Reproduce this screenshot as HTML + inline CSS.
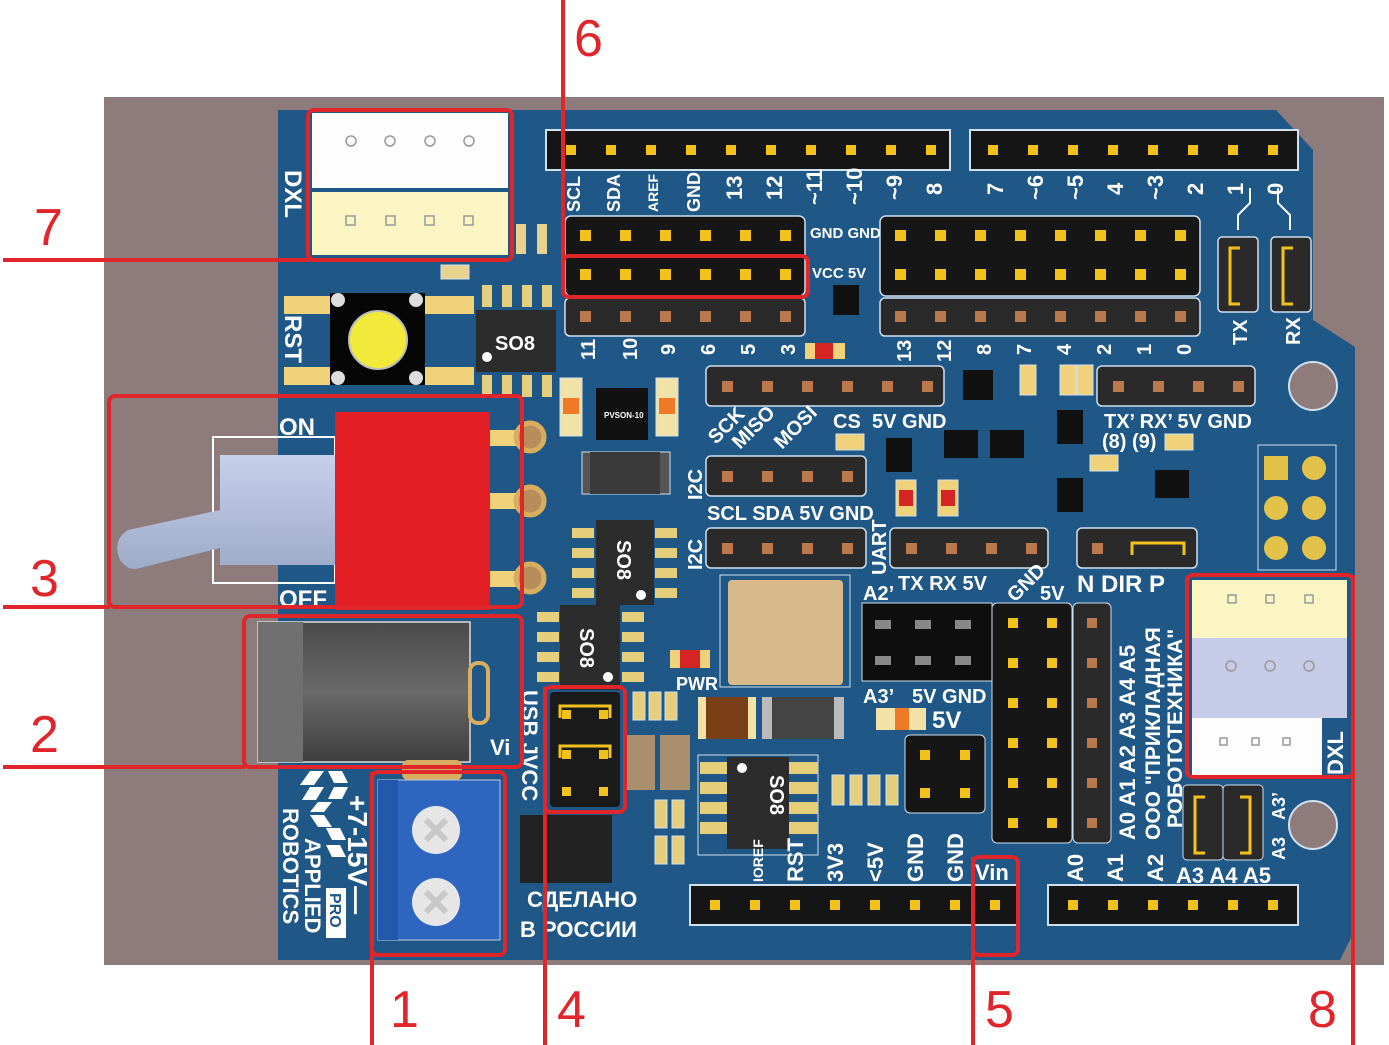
<!DOCTYPE html>
<html><head><meta charset="utf-8"><style>
html,body{margin:0;padding:0;background:#fff;width:1389px;height:1045px;overflow:hidden}
svg{display:block}
text{font-family:"Liberation Sans","DejaVu Sans",sans-serif;font-weight:bold;fill:#fff}
.n{fill:#e0262a;font-size:52px;font-weight:normal}
.l{font-size:20px}
.s{font-size:15px}
</style></head><body>
<svg width="1389" height="1045" viewBox="0 0 1389 1045" xmlns="http://www.w3.org/2000/svg">
<defs>
<linearGradient id="jack" x1="0" y1="0" x2="0" y2="1"><stop offset="0" stop-color="#4a4a4a"/><stop offset=".5" stop-color="#6a6a6a"/><stop offset="1" stop-color="#3e3e3e"/></linearGradient>
<linearGradient id="lev" x1="0" y1="0" x2="0" y2="1"><stop offset="0" stop-color="#c5d0ea"/><stop offset="1" stop-color="#9eabc9"/></linearGradient>
</defs>
<rect x="104" y="97" width="1280" height="868" fill="#8e7b7c"/>
<path d="M278 110 L1276 110 L1313 150 L1313 320 L1355 347 L1355 930 L1340 960 L278 960 Z" fill="#1f5787"/>
<rect x="546" y="130" width="404" height="40" fill="#151515" stroke="#cfe0ee" stroke-width="2"/>
<g fill="#f2c21b">
<rect x="566" y="145" width="10" height="10"/><rect x="606" y="145" width="10" height="10"/><rect x="646" y="145" width="10" height="10"/><rect x="686" y="145" width="10" height="10"/><rect x="726" y="145" width="10" height="10"/><rect x="766" y="145" width="10" height="10"/><rect x="806" y="145" width="10" height="10"/><rect x="846" y="145" width="10" height="10"/><rect x="886" y="145" width="10" height="10"/><rect x="926" y="145" width="10" height="10"/>
</g>
<rect x="970" y="130" width="328" height="40" fill="#151515" stroke="#cfe0ee" stroke-width="2"/>
<g fill="#f2c21b">
<rect x="988" y="145" width="10" height="10"/><rect x="1028" y="145" width="10" height="10"/><rect x="1068" y="145" width="10" height="10"/><rect x="1108" y="145" width="10" height="10"/><rect x="1148" y="145" width="10" height="10"/><rect x="1188" y="145" width="10" height="10"/><rect x="1228" y="145" width="10" height="10"/><rect x="1268" y="145" width="10" height="10"/>
</g>
<g class="l">
<text transform="translate(580,212) rotate(-90)" font-size="18">SCL</text>
<text transform="translate(620,212) rotate(-90)" font-size="18">SDA</text>
<text transform="translate(658,212) rotate(-90)" font-size="14">AREF</text>
<text transform="translate(700,212) rotate(-90)" font-size="18">GND</text>
<text transform="translate(742,200) rotate(-90)" font-size="22">13</text>
<text transform="translate(782,200) rotate(-90)" font-size="22">12</text>
<text transform="translate(822,205) rotate(-90)" font-size="22">~11</text>
<text transform="translate(862,205) rotate(-90)" font-size="22">~10</text>
<text transform="translate(902,200) rotate(-90)" font-size="22">~9</text>
<text transform="translate(942,195) rotate(-90)" font-size="22">8</text>
<text transform="translate(1003,195) rotate(-90)" font-size="22">7</text>
<text transform="translate(1043,200) rotate(-90)" font-size="22">~6</text>
<text transform="translate(1083,200) rotate(-90)" font-size="22">~5</text>
<text transform="translate(1123,195) rotate(-90)" font-size="22">4</text>
<text transform="translate(1163,200) rotate(-90)" font-size="22">~3</text>
<text transform="translate(1203,195) rotate(-90)" font-size="22">2</text>
<text transform="translate(1243,195) rotate(-90)" font-size="22">1</text>
<text transform="translate(1283,195) rotate(-90)" font-size="22">0</text>
</g>
<rect x="565" y="216" width="240" height="80" rx="6" fill="#161616" stroke="#cfe0ee" stroke-width="1.5"/>
<rect x="880" y="216" width="320" height="80" rx="6" fill="#161616" stroke="#cfe0ee" stroke-width="1.5"/>
<g fill="#f2c21b">
<rect x="580" y="230" width="11" height="11"/><rect x="620" y="230" width="11" height="11"/><rect x="660" y="230" width="11" height="11"/><rect x="700" y="230" width="11" height="11"/><rect x="740" y="230" width="11" height="11"/><rect x="780" y="230" width="11" height="11"/>
<rect x="580" y="269" width="11" height="11"/><rect x="620" y="269" width="11" height="11"/><rect x="660" y="269" width="11" height="11"/><rect x="700" y="269" width="11" height="11"/><rect x="740" y="269" width="11" height="11"/><rect x="780" y="269" width="11" height="11"/>
<rect x="895" y="230" width="11" height="11"/><rect x="935" y="230" width="11" height="11"/><rect x="975" y="230" width="11" height="11"/><rect x="1015" y="230" width="11" height="11"/><rect x="1055" y="230" width="11" height="11"/><rect x="1095" y="230" width="11" height="11"/><rect x="1135" y="230" width="11" height="11"/><rect x="1175" y="230" width="11" height="11"/>
<rect x="895" y="269" width="11" height="11"/><rect x="935" y="269" width="11" height="11"/><rect x="975" y="269" width="11" height="11"/><rect x="1015" y="269" width="11" height="11"/><rect x="1055" y="269" width="11" height="11"/><rect x="1095" y="269" width="11" height="11"/><rect x="1135" y="269" width="11" height="11"/><rect x="1175" y="269" width="11" height="11"/>
</g>
<rect x="565" y="298" width="240" height="38" rx="5" fill="#2a2a2a" stroke="#cfe0ee" stroke-width="1.5"/>
<rect x="880" y="298" width="320" height="38" rx="5" fill="#2a2a2a" stroke="#cfe0ee" stroke-width="1.5"/>
<g fill="#b9794c">
<rect x="580" y="311" width="11" height="11"/><rect x="620" y="311" width="11" height="11"/><rect x="660" y="311" width="11" height="11"/><rect x="700" y="311" width="11" height="11"/><rect x="740" y="311" width="11" height="11"/><rect x="780" y="311" width="11" height="11"/>
<rect x="895" y="311" width="11" height="11"/><rect x="935" y="311" width="11" height="11"/><rect x="975" y="311" width="11" height="11"/><rect x="1015" y="311" width="11" height="11"/><rect x="1055" y="311" width="11" height="11"/><rect x="1095" y="311" width="11" height="11"/><rect x="1135" y="311" width="11" height="11"/><rect x="1175" y="311" width="11" height="11"/>
</g>
<text x="810" y="238" class="s" font-size="13">GND GND</text>
<text x="812" y="278" class="s" font-size="13">VCC   5V</text>
<rect x="833" y="285" width="26" height="30" fill="#111"/>
<g class="l" font-size="22">
<text transform="translate(595,360) rotate(-90)">11</text><text transform="translate(637,360) rotate(-90)">10</text><text transform="translate(675,355) rotate(-90)">9</text><text transform="translate(715,355) rotate(-90)">6</text><text transform="translate(755,355) rotate(-90)">5</text><text transform="translate(795,355) rotate(-90)">3</text>
<text transform="translate(911,362) rotate(-90)">13</text><text transform="translate(951,362) rotate(-90)">12</text><text transform="translate(991,355) rotate(-90)">8</text><text transform="translate(1031,355) rotate(-90)">7</text><text transform="translate(1071,355) rotate(-90)">4</text><text transform="translate(1111,355) rotate(-90)">2</text><text transform="translate(1151,355) rotate(-90)">1</text><text transform="translate(1191,355) rotate(-90)">0</text>
</g>
<rect x="1218" y="237" width="40" height="75" rx="4" fill="#2a2a2a" stroke="#cfe0ee" stroke-width="1.5"/>
<rect x="1271" y="237" width="40" height="75" rx="4" fill="#2a2a2a" stroke="#cfe0ee" stroke-width="1.5"/>
<path d="M1240 248 h-10 v56 h10 M1293 248 h-10 v56 h10" stroke="#f2c21b" stroke-width="3" fill="none"/>
<text transform="translate(1247,345) rotate(-90)" font-size="20">TX</text>
<text transform="translate(1300,345) rotate(-90)" font-size="20">RX</text>
<path d="M1238 230 v-15 l12 -12 v-15 M1290 230 v-15 l-12 -12 v-15" stroke="#fff" stroke-width="2" fill="none"/>
<rect x="312" y="113" width="196" height="75" fill="#fdfdfd"/>
<rect x="312" y="192" width="196" height="63" fill="#fbf5c4"/>
<g fill="none" stroke="#999" stroke-width="1.5"><circle cx="351" cy="141" r="5"/><circle cx="390" cy="141" r="5"/><circle cx="430" cy="141" r="5"/><circle cx="469" cy="141" r="5"/>
<rect x="346" y="216" width="9" height="9"/><rect x="386" y="216" width="9" height="9"/><rect x="425" y="216" width="9" height="9"/><rect x="464" y="216" width="9" height="9"/></g>
<text transform="translate(285,170) rotate(90)" font-size="24">DXL</text>
<rect x="516" y="224" width="10" height="30" fill="#e8d290"/><rect x="537" y="224" width="10" height="30" fill="#e8d290"/>
<rect x="441" y="265" width="28" height="14" fill="#e8d290" stroke="#cfe0ee"/>
<rect x="284" y="296" width="190" height="18" fill="#f0d27a"/><rect x="284" y="367" width="190" height="18" fill="#f0d27a"/>
<rect x="330" y="293" width="95" height="92" fill="#050505"/>
<circle cx="378" cy="340" r="29" fill="#f2ea3a" stroke="#bbb" stroke-width="2"/>
<g fill="#ddd"><circle cx="338" cy="300" r="7"/><circle cx="416" cy="300" r="7"/><circle cx="338" cy="378" r="7"/><circle cx="416" cy="378" r="7"/></g>
<text transform="translate(285,315) rotate(90)" font-size="24">RST</text>
<g fill="#e6cf7c"><rect x="482" y="285" width="10" height="22"/><rect x="502" y="285" width="10" height="22"/><rect x="522" y="285" width="10" height="22"/><rect x="542" y="285" width="10" height="22"/><rect x="482" y="375" width="10" height="22"/><rect x="502" y="375" width="10" height="22"/><rect x="522" y="375" width="10" height="22"/><rect x="542" y="375" width="10" height="22"/></g>
<rect x="476" y="310" width="80" height="62" fill="#2c2c2c"/>
<text x="495" y="350" font-size="20" font-weight="normal" fill="#ddd">SO8</text>
<circle cx="487" cy="357" r="5" fill="#fff"/>
<rect x="560" y="378" width="22" height="58" fill="#f2e2a8" stroke="#cfe0ee"/><rect x="563" y="398" width="16" height="16" fill="#ef7a26"/>
<rect x="596" y="388" width="52" height="52" fill="#111"/><text x="604" y="418" font-size="8" font-weight="normal">PVSON-10</text>
<rect x="656" y="378" width="22" height="58" fill="#f2e2a8" stroke="#cfe0ee"/><rect x="659" y="398" width="16" height="16" fill="#ef7a26"/>
<rect x="213" y="437" width="122" height="146" fill="none" stroke="#fff" stroke-width="2"/>
<path d="M335 455 H220 V510 L128 530 Q112 540 120 560 Q128 572 140 568 L220 548 V565 H335 Z" fill="url(#lev)"/>
<rect x="335" y="412" width="155" height="198" fill="#e31e24"/>
<rect x="490" y="430" width="40" height="16" fill="#f0d27a"/><rect x="490" y="493" width="40" height="16" fill="#f0d27a"/><rect x="490" y="571" width="40" height="16" fill="#f0d27a"/>
<g fill="#b88d5a" stroke="#d9ad5f" stroke-width="5"><circle cx="530" cy="437" r="14"/><circle cx="530" cy="501" r="14"/><circle cx="530" cy="578" r="14"/></g>
<text x="279" y="435" font-size="24">ON</text>
<text x="279" y="607" font-size="24">OFF</text>
<rect x="582" y="452" width="88" height="42" fill="#555" stroke="#cfe0ee"/><rect x="590" y="452" width="70" height="42" fill="#3a3a3a"/>
<g fill="#e6cf7c"><rect x="572" y="528" width="22" height="10"/><rect x="572" y="548" width="22" height="10"/><rect x="572" y="568" width="22" height="10"/><rect x="572" y="588" width="22" height="10"/><rect x="655" y="528" width="22" height="10"/><rect x="655" y="548" width="22" height="10"/><rect x="655" y="568" width="22" height="10"/><rect x="655" y="588" width="22" height="10"/>
<rect x="537" y="612" width="22" height="10"/><rect x="537" y="632" width="22" height="10"/><rect x="537" y="652" width="22" height="10"/><rect x="537" y="672" width="22" height="10"/><rect x="622" y="612" width="22" height="10"/><rect x="622" y="632" width="22" height="10"/><rect x="622" y="652" width="22" height="10"/><rect x="622" y="672" width="22" height="10"/></g>
<rect x="596" y="520" width="58" height="85" fill="#2c2c2c"/><text transform="translate(617,540) rotate(90)" font-size="20" font-weight="normal" fill="#ddd">SO8</text><circle cx="641" cy="595" r="5" fill="#fff"/>
<rect x="560" y="605" width="60" height="85" fill="#2c2c2c"/><text transform="translate(580,628) rotate(90)" font-size="20" font-weight="normal" fill="#ddd">SO8</text><circle cx="608" cy="677" r="5" fill="#fff"/>
<rect x="258" y="622" width="212" height="140" fill="url(#jack)" stroke="#ddd" stroke-width="1.5"/>
<rect x="258" y="622" width="45" height="140" fill="#707070"/>
<rect x="470" y="663" width="18" height="60" rx="8" fill="none" stroke="#d9ad5f" stroke-width="4"/>
<text x="490" y="755" font-size="22">Vi</text>
<rect x="402" y="760" width="60" height="20" rx="6" fill="#d9ad5f"/>
<rect x="378" y="780" width="122" height="160" fill="#2e66bf" stroke="#bcd" stroke-width="1"/>
<rect x="378" y="780" width="20" height="160" fill="#2458ad"/>
<circle cx="436" cy="830" r="24" fill="#e6e6e6"/><circle cx="436" cy="902" r="24" fill="#e6e6e6"/>
<path d="M426 820 l20 20 M446 820 l-20 20 M426 892 l20 20 M446 892 l-20 20" stroke="#c8c8c8" stroke-width="6"/>
<!-- logo -->
<g fill="#fff">
<path d="M300 785 l10 -14 h14 l-10 14 Z"/><path d="M310 787 h14 l-8 13 h-14 Z"/>
<path d="M328 771 h14 l6 12 h-14 Z"/><path d="M334 787 h14 l-6 12 h-14 Z"/>
<path d="M310 812 l8 -10 h14 l-8 10 Z"/><path d="M310 815 h14 l8 12 h-14 Z"/>
<path d="M326 828 h14 l6 12 h-14 Z"/><path d="M326 845 h14 l6 12 h-14 Z"/>
</g>
<text transform="translate(283,808) rotate(90)" font-size="22">ROBOTICS</text>
<text transform="translate(305,838) rotate(90)" font-size="22">APPLIED</text>
<text transform="translate(348,795) rotate(90)" font-size="28" font-weight="normal">+7-15V—</text>
<rect x="326" y="888" width="20" height="50" fill="#fff"/><text transform="translate(330,893) rotate(90)" font-size="16" style="fill:#1f5787">PRO</text>
<rect x="550" y="692" width="70" height="115" rx="4" fill="#1a1a1a"/>
<path d="M560 718 v-12 h50 v12 M560 758 v-12 h50 v12" stroke="#f2c21b" stroke-width="3" fill="none"/>
<g fill="#f2c21b"><rect x="562" y="710" width="9" height="9"/><rect x="599" y="710" width="9" height="9"/><rect x="562" y="750" width="9" height="9"/><rect x="599" y="750" width="9" height="9"/><rect x="562" y="787" width="9" height="9"/><rect x="599" y="787" width="9" height="9"/></g>
<text transform="translate(522,690) rotate(90)" font-size="22" font-weight="normal">USB JVCC</text>
<rect x="520" y="815" width="92" height="68" fill="#222"/>
<text x="527" y="907" font-size="22" font-weight="normal">СДЕЛАНО</text>
<text x="520" y="937" font-size="22" font-weight="normal">В РОССИИ</text>
<g fill="#e6cf7c" stroke="#cfe0ee"><rect x="633" y="692" width="12" height="28"/><rect x="649" y="692" width="12" height="28"/><rect x="665" y="692" width="12" height="28"/><rect x="655" y="800" width="12" height="28"/><rect x="672" y="800" width="12" height="28"/><rect x="655" y="836" width="12" height="28"/><rect x="672" y="836" width="12" height="28"/></g>
<rect x="625" y="735" width="30" height="55" fill="#a98e70"/><rect x="660" y="735" width="30" height="55" fill="#a98e70"/>
<rect x="670" y="650" width="40" height="18" fill="#f0d27a"/><rect x="680" y="650" width="20" height="18" fill="#d42424"/>
<text x="676" y="690" font-size="18">PWR</text>
<rect x="698" y="697" width="58" height="42" fill="#f2e2a8"/><rect x="706" y="697" width="42" height="42" fill="#7a3e16"/>
<rect x="762" y="697" width="82" height="42" fill="#bbb"/><rect x="772" y="697" width="62" height="42" fill="#444"/>
<rect x="698" y="755" width="120" height="100" fill="none" stroke="#cfe0ee"/>
<g fill="#e6cf7c"><rect x="700" y="762" width="30" height="12"/><rect x="700" y="782" width="30" height="12"/><rect x="700" y="802" width="30" height="12"/><rect x="700" y="822" width="30" height="12"/><rect x="788" y="762" width="30" height="12"/><rect x="788" y="782" width="30" height="12"/><rect x="788" y="802" width="30" height="12"/><rect x="788" y="822" width="30" height="12"/></g>
<rect x="727" y="757" width="62" height="92" fill="#2c2c2c"/><circle cx="742" cy="768" r="5" fill="#fff"/>
<text transform="translate(770,775) rotate(90)" font-size="20" font-weight="normal" fill="#ddd">SO8</text>
<g fill="#e6cf7c" stroke="#cfe0ee"><rect x="832" y="775" width="12" height="30"/><rect x="850" y="775" width="12" height="30"/><rect x="868" y="775" width="12" height="30"/><rect x="886" y="775" width="12" height="30"/></g>
<rect x="720" y="575" width="130" height="112" fill="none" stroke="#cfe0ee"/>
<rect x="728" y="580" width="115" height="105" rx="4" fill="#d8b98a"/>
<g fill="#2a2a2a" stroke="#cfe0ee" stroke-width="1.5">
<rect x="706" y="366" width="238" height="40" rx="5"/><rect x="1097" y="366" width="158" height="40" rx="5"/>
<rect x="706" y="456" width="160" height="40" rx="5"/><rect x="706" y="528" width="160" height="40" rx="5"/>
<rect x="890" y="528" width="158" height="40" rx="5"/><rect x="1077" y="528" width="120" height="40" rx="5"/>
</g>
<g fill="#b9794c">
<rect x="722" y="381" width="11" height="11"/><rect x="762" y="381" width="11" height="11"/><rect x="802" y="381" width="11" height="11"/><rect x="842" y="381" width="11" height="11"/><rect x="882" y="381" width="11" height="11"/><rect x="922" y="381" width="11" height="11"/>
<rect x="1113" y="381" width="11" height="11"/><rect x="1153" y="381" width="11" height="11"/><rect x="1193" y="381" width="11" height="11"/><rect x="1233" y="381" width="11" height="11"/>
<rect x="722" y="471" width="11" height="11"/><rect x="762" y="471" width="11" height="11"/><rect x="802" y="471" width="11" height="11"/><rect x="842" y="471" width="11" height="11"/>
<rect x="722" y="543" width="11" height="11"/><rect x="762" y="543" width="11" height="11"/><rect x="802" y="543" width="11" height="11"/><rect x="842" y="543" width="11" height="11"/>
<rect x="906" y="543" width="11" height="11"/><rect x="946" y="543" width="11" height="11"/><rect x="986" y="543" width="11" height="11"/><rect x="1026" y="543" width="11" height="11"/>
<rect x="1092" y="543" width="11" height="11"/>
</g>
<path d="M1132 555 v-12 h52 v12" stroke="#f2c21b" stroke-width="3" fill="none"/>
<g font-size="20">
<text transform="translate(716,445) rotate(-45)">SCK</text>
<text transform="translate(740,450) rotate(-45)">MISO</text>
<text transform="translate(782,450) rotate(-45)">MOSI</text>
<text x="833" y="428">CS</text><text x="872" y="428">5V GND</text>
<text x="1104" y="428">TX’ RX’ 5V GND</text>
<text x="1102" y="448" font-weight="normal">(8) (9)</text>
<text x="707" y="520">SCL SDA 5V GND</text>
<text transform="translate(702,500) rotate(-90)">I2C</text>
<text transform="translate(702,570) rotate(-90)">I2C</text>
<text transform="translate(886,575) rotate(-90)">UART</text>
<text x="863" y="600">A2’</text><text x="898" y="590">TX  RX  5V</text>
<text transform="translate(1015,603) rotate(-45)">GND</text>
<text x="1040" y="600">5V</text>
<text x="1077" y="592" font-size="24">N DIR P</text>
<text x="863" y="703">A3’</text><text x="912" y="703">5V GND</text>
<text x="932" y="728" font-size="24">5V</text>
</g>
<rect x="876" y="708" width="50" height="22" fill="#f2e2a8"/><rect x="895" y="708" width="14" height="22" fill="#ef7a26"/>
<g fill="#111"><rect x="886" y="438" width="26" height="34"/><rect x="944" y="430" width="34" height="28"/><rect x="990" y="430" width="34" height="28"/><rect x="1057" y="410" width="26" height="34"/><rect x="1057" y="478" width="26" height="34"/><rect x="1155" y="470" width="34" height="28"/><rect x="963" y="370" width="30" height="30"/></g>
<g fill="#f0d27a" stroke="#cfe0ee"><rect x="896" y="480" width="20" height="36"/><rect x="938" y="480" width="20" height="36"/><rect x="836" y="434" width="28" height="16"/><rect x="1090" y="455" width="28" height="16"/><rect x="1165" y="434" width="28" height="16"/><rect x="1020" y="365" width="16" height="30"/><rect x="1060" y="365" width="16" height="30"/><rect x="1077" y="365" width="16" height="30"/></g>
<rect x="899" y="490" width="14" height="16" fill="#d42424"/><rect x="941" y="490" width="14" height="16" fill="#d42424"/>
<rect x="805" y="343" width="40" height="16" fill="#f0d27a"/><rect x="815" y="343" width="18" height="16" fill="#d42424"/>
<rect x="862" y="603" width="130" height="78" fill="#0e0e0e" stroke="#cfe0ee"/>
<g fill="#888"><rect x="875" y="620" width="16" height="9"/><rect x="915" y="620" width="16" height="9"/><rect x="955" y="620" width="16" height="9"/><rect x="875" y="656" width="16" height="9"/><rect x="915" y="656" width="16" height="9"/><rect x="955" y="656" width="16" height="9"/></g>
<rect x="905" y="735" width="80" height="78" rx="5" fill="#161616" stroke="#cfe0ee"/>
<g fill="#f2c21b"><rect x="920" y="750" width="10" height="10"/><rect x="960" y="750" width="10" height="10"/><rect x="920" y="788" width="10" height="10"/><rect x="960" y="788" width="10" height="10"/></g>
<rect x="992" y="603" width="80" height="240" rx="5" fill="#161616" stroke="#cfe0ee"/>
<rect x="1073" y="603" width="38" height="240" rx="5" fill="#2a2a2a" stroke="#cfe0ee"/>
<g fill="#f2c21b">
<rect x="1008" y="618" width="10" height="10"/><rect x="1047" y="618" width="10" height="10"/>
<rect x="1008" y="658" width="10" height="10"/><rect x="1047" y="658" width="10" height="10"/>
<rect x="1008" y="698" width="10" height="10"/><rect x="1047" y="698" width="10" height="10"/>
<rect x="1008" y="738" width="10" height="10"/><rect x="1047" y="738" width="10" height="10"/>
<rect x="1008" y="778" width="10" height="10"/><rect x="1047" y="778" width="10" height="10"/>
<rect x="1008" y="818" width="10" height="10"/><rect x="1047" y="818" width="10" height="10"/>
</g>
<g fill="#b9794c"><rect x="1087" y="618" width="10" height="10"/><rect x="1087" y="658" width="10" height="10"/><rect x="1087" y="698" width="10" height="10"/><rect x="1087" y="738" width="10" height="10"/><rect x="1087" y="778" width="10" height="10"/><rect x="1087" y="818" width="10" height="10"/></g>
<text transform="translate(1135,840) rotate(-90)" font-size="22">A0 A1 A2 A3 A4 A5</text>
<text transform="translate(1160,840) rotate(-90)" font-size="21" font-weight="normal">ООО "ПРИКЛАДНАЯ</text>
<text transform="translate(1182,828) rotate(-90)" font-size="21" font-weight="normal">РОБОТОТЕХНИКА"</text>
<rect x="1258" y="445" width="78" height="125" fill="none" stroke="#cfe0ee"/>
<g fill="#e3c24a"><rect x="1264" y="456" width="24" height="24"/><circle cx="1314" cy="468" r="12"/><circle cx="1276" cy="508" r="12"/><circle cx="1314" cy="508" r="12"/><circle cx="1276" cy="548" r="12"/><circle cx="1314" cy="548" r="12"/></g>
<circle cx="1313" cy="386" r="24" fill="#8e7b7c" stroke="#cfe0ee" stroke-width="2"/>
<circle cx="1313" cy="825" r="24" fill="#8e7b7c" stroke="#cfe0ee" stroke-width="2"/>
<rect x="1192" y="580" width="155" height="58" fill="#fbf5c4"/>
<rect x="1192" y="638" width="155" height="80" fill="#c6cce8"/>
<rect x="1192" y="718" width="130" height="57" fill="#fdfdfd"/>
<g fill="none" stroke="#999" stroke-width="1.5"><rect x="1228" y="595" width="8" height="8"/><rect x="1266" y="595" width="8" height="8"/><rect x="1305" y="595" width="8" height="8"/><circle cx="1231" cy="666" r="5"/><circle cx="1270" cy="666" r="5"/><circle cx="1309" cy="666" r="5"/><rect x="1220" y="738" width="7" height="7"/><rect x="1252" y="738" width="7" height="7"/><rect x="1283" y="738" width="7" height="7"/></g>
<text transform="translate(1343,775) rotate(-90)" font-size="22">DXL</text>
<rect x="1183" y="785" width="40" height="75" rx="4" fill="#2a2a2a" stroke="#cfe0ee"/><rect x="1223" y="785" width="40" height="75" rx="4" fill="#2a2a2a" stroke="#cfe0ee"/>
<path d="M1205 797 h-10 v56 h10 M1240 797 h10 v56 h-10" stroke="#f2c21b" stroke-width="3" fill="none"/>
<text transform="translate(1285,820) rotate(-90)" font-size="18">A3’</text>
<text transform="translate(1285,860) rotate(-90)" font-size="18">A3</text>
<rect x="690" y="885" width="328" height="40" fill="#151515" stroke="#cfe0ee" stroke-width="2"/>
<rect x="1048" y="885" width="250" height="40" fill="#151515" stroke="#cfe0ee" stroke-width="2"/>
<g fill="#f2c21b">
<rect x="710" y="900" width="10" height="10"/><rect x="750" y="900" width="10" height="10"/><rect x="790" y="900" width="10" height="10"/><rect x="830" y="900" width="10" height="10"/><rect x="870" y="900" width="10" height="10"/><rect x="910" y="900" width="10" height="10"/><rect x="950" y="900" width="10" height="10"/><rect x="990" y="900" width="10" height="10"/>
<rect x="1068" y="900" width="10" height="10"/><rect x="1108" y="900" width="10" height="10"/><rect x="1148" y="900" width="10" height="10"/><rect x="1188" y="900" width="10" height="10"/><rect x="1228" y="900" width="10" height="10"/><rect x="1268" y="900" width="10" height="10"/>
</g>
<g font-size="22" font-weight="normal">
<text transform="translate(763,882) rotate(-90)" font-size="14" font-weight="bold">IOREF</text>
<text transform="translate(803,882) rotate(-90)">RST</text>
<text transform="translate(843,882) rotate(-90)">3V3</text>
<text transform="translate(883,882) rotate(-90)">&lt;5V</text>
<text transform="translate(923,882) rotate(-90)">GND</text>
<text transform="translate(963,882) rotate(-90)">GND</text>
<text x="975" y="880">Vin</text>
<text transform="translate(1083,882) rotate(-90)">A0</text>
<text transform="translate(1123,882) rotate(-90)">A1</text>
<text transform="translate(1163,882) rotate(-90)">A2</text>
<text x="1176" y="883">A3 A4 A5</text>
</g>
<g fill="none" stroke="#e0262a" stroke-width="4" stroke-linejoin="round">
<line x1="563" y1="0" x2="563" y2="262"/>
<rect x="563" y="256" width="245" height="41" rx="6"/>
<line x1="3" y1="260" x2="310" y2="260"/>
<rect x="308" y="110" width="204" height="150" rx="6"/>
<line x1="3" y1="607" x2="110" y2="607"/>
<rect x="109" y="396" width="413" height="211" rx="6"/>
<line x1="3" y1="767" x2="245" y2="767"/>
<rect x="244" y="616" width="278" height="151" rx="6"/>
<line x1="372" y1="772" x2="372" y2="1045"/>
<rect x="372" y="772" width="133" height="183" rx="6"/>
<line x1="545" y1="687" x2="545" y2="1045"/>
<rect x="545" y="687" width="80" height="125" rx="6"/>
<line x1="973" y1="857" x2="973" y2="1045"/>
<rect x="973" y="857" width="45" height="98" rx="6"/>
<line x1="1353" y1="575" x2="1353" y2="1045"/>
<rect x="1187" y="575" width="166" height="202" rx="6"/>
</g>
<text class="n" x="574" y="56">6</text>
<text class="n" x="34" y="245">7</text>
<text class="n" x="30" y="596">3</text>
<text class="n" x="30" y="752">2</text>
<text class="n" x="390" y="1027">1</text>
<text class="n" x="557" y="1027">4</text>
<text class="n" x="985" y="1027">5</text>
<text class="n" x="1308" y="1027">8</text>
</svg>
</body></html>
